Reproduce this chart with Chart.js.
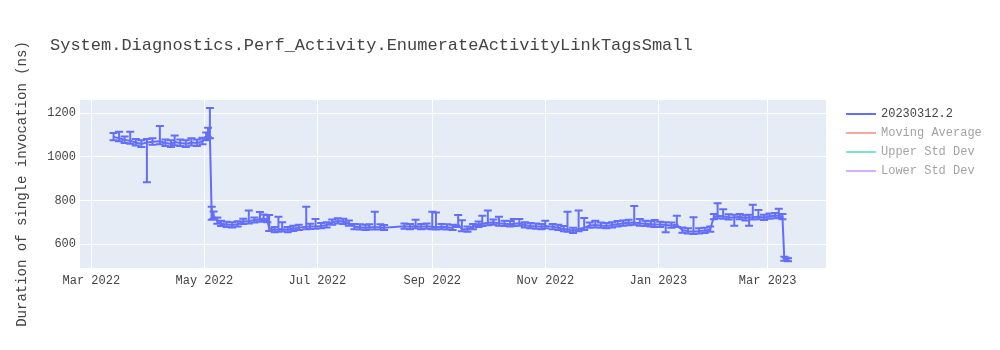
<!DOCTYPE html>
<html>
<head>
<meta charset="utf-8">
<script src="https://cdn.jsdelivr.net/npm/chart.js@4"></script>
<style>
  body { margin: 0; background: #fff; }
  #wrap { position: relative; width: 1000px; height: 350px; font-family: "Liberation Mono", "Courier New", monospace; color: #444; }
  #title { position: absolute; left: 50px; top: 37px; font-size: 17px; line-height: 17px; white-space: nowrap; }
  .leg { position: absolute; left: 846px; height: 14px; }
  .leg .ln { position: absolute; left: 0; top: 6px; width: 30px; height: 2px; }
  .leg .tx { position: absolute; left: 35px; top: 0; font-size: 12px; line-height: 14px; white-space: nowrap; }
</style>
</head>
<body>
<div id="wrap">
  <canvas id="Courbes" width="1000" height="350"></canvas>
  <div id="title">System.Diagnostics.Perf_Activity.EnumerateActivityLinkTagsSmall</div>
  <div id="legend"></div>
</div>
<script>
const dates = [
  "2022-03-13", "2022-03-16", "2022-03-19", "2022-03-22", "2022-03-25", "2022-03-28", "2022-03-31",
  "2022-04-03", "2022-04-07", "2022-04-10", "2022-04-13", "2022-04-15", "2022-04-18", "2022-04-21",
  "2022-04-24", "2022-04-27", "2022-04-30", "2022-05-02", "2022-05-03", "2022-05-04", "2022-05-05",
  "2022-05-06", "2022-05-08", "2022-05-10", "2022-05-13", "2022-05-16", "2022-05-19", "2022-05-22",
  "2022-05-25", "2022-05-28", "2022-05-31", "2022-06-02", "2022-06-04", "2022-06-05", "2022-06-08",
  "2022-06-10", "2022-06-12", "2022-06-15", "2022-06-18", "2022-06-21", "2022-06-25", "2022-06-27",
  "2022-06-30", "2022-07-03", "2022-07-06", "2022-07-09", "2022-07-12", "2022-07-15", "2022-07-18",
  "2022-07-21", "2022-07-24", "2022-07-27", "2022-07-29", "2022-08-01", "2022-08-04", "2022-08-06",
  "2022-08-17", "2022-08-20", "2022-08-23", "2022-08-26", "2022-08-29", "2022-09-01", "2022-09-03",
  "2022-09-06", "2022-09-09", "2022-09-12", "2022-09-15", "2022-09-17", "2022-09-20", "2022-09-23",
  "2022-09-26", "2022-09-28", "2022-10-01", "2022-10-04", "2022-10-07", "2022-10-10", "2022-10-13",
  "2022-10-15", "2022-10-18", "2022-10-21", "2022-10-24", "2022-10-27", "2022-10-30", "2022-11-01",
  "2022-11-05", "2022-11-08", "2022-11-11", "2022-11-13", "2022-11-16", "2022-11-19", "2022-11-22",
  "2022-11-25", "2022-11-28", "2022-12-01", "2022-12-04", "2022-12-07", "2022-12-10", "2022-12-13",
  "2022-12-16", "2022-12-19", "2022-12-22", "2022-12-25", "2022-12-28", "2022-12-30", "2023-01-02",
  "2023-01-05", "2023-01-08", "2023-01-11", "2023-01-14", "2023-01-17", "2023-01-20", "2023-01-23",
  "2023-01-26", "2023-01-29", "2023-01-31", "2023-02-02", "2023-02-05", "2023-02-08", "2023-02-11",
  "2023-02-14", "2023-02-17", "2023-02-19", "2023-02-21", "2023-02-24", "2023-02-27", "2023-03-02",
  "2023-03-05", "2023-03-07", "2023-03-09", "2023-03-10", "2023-03-11", "2023-03-12"
];
const durations = [
  1092, 1086, 1078, 1074, 1066, 1060, 1066,
  1070, 1072, 1064, 1060, 1068, 1064, 1060,
  1066, 1064, 1072, 1090, 1104, 1098, 722,
  730, 706, 694, 690, 688, 692, 704,
  706, 710, 714, 718, 712, 672, 666,
  668, 670, 666, 672, 676, 680, 681,
  682, 684, 688, 700, 706, 704, 696,
  680, 678, 676, 678, 678, 678, 676,
  682, 680, 684, 680, 682, 680, 678,
  680, 678, 676, 690, 670, 668, 680,
  690, 694, 698, 700, 696, 694, 692,
  694, 696, 688, 684, 682, 680, 684,
  680, 676, 670, 668, 662, 670, 676,
  686, 688, 686, 684, 688, 692, 696,
  698, 700, 696, 694, 692, 690, 690,
  688, 686, 690, 664, 660, 658, 660,
  662, 668, 726, 730, 728, 724, 722,
  726, 720, 722, 724, 726, 722, 728,
  730, 732, 726, 532, 530, 528
];
const errPlus = [
  18, 30, 16, 42, 16, 16, 16,
  16, 70, 16, 16, 30, 16, 16,
  20, 16, 16, 22, 30, 126, 50,
  20, 16, 13, 13, 13, 13, 13,
  48, 13, 34, 18, 22, 62, 13,
  58, 31, 13, 13, 13, 92, 13,
  34, 13, 13, 13, 13, 13, 13,
  13, 13, 13, 13, 71, 13, 12,
  13, 13, 28, 13, 13, 69, 67,
  13, 13, 13, 44, 40, 13, 13,
  14, 36, 56, 13, 30, 13, 14,
  22, 20, 13, 13, 13, 13, 24,
  13, 13, 13, 81, 13, 84, 44,
  13, 20, 13, 13, 13, 14, 13,
  14, 75, 20, 13, 13, 21, 13,
  13, 13, 41, 13, 13, 66, 13,
  13, 13, 13, 58, 32, 13, 13,
  13, 13, 13, 57, 31, 13, 13,
  13, 31, 13, 10, 8, 8
];
const errMinus = [
  16, 14, 14, 14, 14, 14, 182,
  14, 14, 14, 14, 14, 14, 14,
  14, 14, 14, 14, 14, 12, 10,
  12, 12, 11, 11, 11, 11, 11,
  11, 11, 11, 12, 11, 11, 11,
  11, 11, 11, 11, 11, 11, 11,
  11, 11, 11, 11, 11, 11, 11,
  11, 11, 11, 11, 11, 11, 11,
  11, 11, 11, 11, 11, 11, 11,
  11, 11, 11, 11, 11, 11, 11,
  11, 11, 11, 11, 11, 11, 11,
  11, 11, 11, 11, 11, 11, 11,
  11, 11, 11, 11, 11, 11, 11,
  11, 11, 11, 11, 11, 11, 11,
  11, 11, 11, 11, 11, 11, 11,
  33, 11, 11, 11, 11, 11, 11,
  11, 11, 11, 11, 11, 11, 37,
  11, 11, 37, 11, 11, 11, 11,
  11, 11, 11, 8, 6, 6
];

const xTicks = ["2022-03-01", "2022-05-01", "2022-07-01", "2022-09-01", "2022-11-01", "2023-01-01", "2023-03-01"];
const xTickLabels = ["Mar 2022", "May 2022", "Jul 2022", "Sep 2022", "Nov 2022", "Jan 2023", "Mar 2023"];
const xRange = ["2022-02-22T21:36:00Z", "2023-04-01T12:00:00Z"];
const yTicks = [600, 800, 1000, 1200];
const yRange = [491, 1261];

const legendNames = ["20230312.2", "Moving Average", "Upper Std Dev", "Lower Std Dev"];
const legendColors = ["#636efa", "#EF553B", "#00cc96", "#ab63fa"];
const legendVisible = [true, false, false, false];

const mono = '"Liberation Mono", "Courier New", monospace';
const blue = "#636efa";

// legend, plotly style (hidden traces are drawn faded)
let legendHTML = "";
for (let i = 0; i < legendNames.length; i++) {
  const top = 107 + i * 19;
  const op = legendVisible[i] ? 1 : 0.5;
  legendHTML += `<div class="leg" style="top:${top}px;opacity:${op}">
    <div class="ln" style="background:${legendColors[i]}"></div>
    <div class="tx">${legendNames[i]}</div>
  </div>`;
}
document.getElementById("legend").innerHTML = legendHTML;

const plotBackground = {
  id: "plotBackground",
  beforeDraw(chart) {
    const { ctx, chartArea } = chart;
    ctx.save();
    ctx.fillStyle = "#E5ECF6";
    ctx.fillRect(chartArea.left, chartArea.top, chartArea.right - chartArea.left, chartArea.bottom - chartArea.top);
    ctx.restore();
  },
};

const errorBars = {
  id: "errorBars",
  beforeDatasetsDraw(chart) {
    const { ctx } = chart;
    const x = chart.scales.x;
    const y = chart.scales.y;
    ctx.save();
    ctx.strokeStyle = blue;
    ctx.lineWidth = 2;
    ctx.beginPath();
    for (let i = 0; i < dates.length; i++) {
      const px = x.getPixelForValue(Date.parse(dates[i]));
      const top = y.getPixelForValue(durations[i] + errPlus[i]);
      const bot = y.getPixelForValue(durations[i] - errMinus[i]);
      ctx.moveTo(px, top);
      ctx.lineTo(px, bot);
      ctx.moveTo(px - 4, top);
      ctx.lineTo(px + 4, top);
      ctx.moveTo(px - 4, bot);
      ctx.lineTo(px + 4, bot);
    }
    ctx.stroke();
    ctx.restore();
  },
};

Chart.defaults.font.family = mono;
Chart.defaults.font.size = 12;
Chart.defaults.color = "#444";

let ctx = document.getElementById("Courbes").getContext("2d");
let Courbes = new Chart(ctx, {
  type: "line",
  data: {
    datasets: [
      {
        label: legendNames[0],
        data: dates.map((d, i) => ({ x: Date.parse(d), y: durations[i] })),
        borderColor: blue,
        backgroundColor: blue,
        borderWidth: 2,
        pointRadius: 0,
        tension: 0,
        fill: false,
      },
    ],
  },
  options: {
    responsive: false,
    animation: false,
    layout: { padding: { top: 100, right: 174, left: 0, bottom: 0 } },
    plugins: {
      legend: { display: false },
      tooltip: { enabled: false },
    },
    scales: {
      x: {
        type: "linear",
        min: Date.parse(xRange[0]),
        max: Date.parse(xRange[1]),
        afterBuildTicks: (scale) => {
          scale.ticks = xTicks.map((t) => ({ value: Date.parse(t) }));
        },
        afterFit: (scale) => {
          scale.height = 82;
        },
        ticks: {
          autoSkip: false,
          maxRotation: 0,
          padding: 6,
          callback: function (value, index) {
            return xTickLabels[index];
          },
        },
        grid: { color: "#fff", lineWidth: 1, drawTicks: false },
        border: { display: false },
      },
      y: {
        min: yRange[0],
        max: yRange[1],
        afterBuildTicks: (scale) => {
          scale.ticks = yTicks.map((v) => ({ value: v }));
        },
        afterFit: (scale) => {
          scale.width = 80;
        },
        ticks: {
          padding: 4,
          callback: function (value) {
            return String(value);
          },
        },
        grid: { color: "#fff", lineWidth: 1, drawTicks: false },
        border: { display: false },
        title: {
          display: true,
          text: "Duration of single invocation (ns)",
          font: { size: 14, family: mono },
          color: "#444",
          padding: { top: 14, bottom: 0 },
        },
      },
    },
  },
  plugins: [plotBackground, errorBars],
});
</script>
</body>
</html>
